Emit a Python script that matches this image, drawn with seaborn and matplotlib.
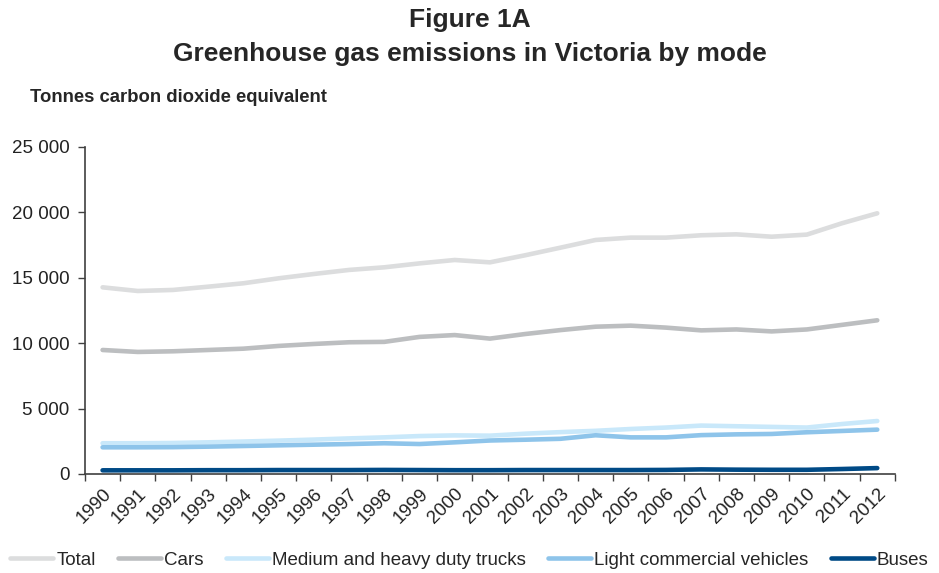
import numpy as np
import pandas as pd
import seaborn as sns
import matplotlib.pyplot as plt
from matplotlib.ticker import FuncFormatter, FixedLocator

years = list(range(1990, 2013))
total = [14270, 13990, 14070, 14320, 14580, 14960, 15290, 15600, 15800, 16100, 16360, 16180,
         16720, 17300, 17890, 18070, 18070, 18250, 18320, 18140, 18300, 19170, 19930]
cars = [9480, 9330, 9380, 9480, 9580, 9790, 9940, 10070, 10100, 10480, 10620, 10350,
        10700, 11000, 11260, 11340, 11190, 10980, 11050, 10900, 11050, 11400, 11750]
trucks = [2350, 2350, 2370, 2420, 2480, 2550, 2630, 2720, 2800, 2900, 2950, 2930,
          3080, 3200, 3300, 3440, 3550, 3700, 3650, 3600, 3550, 3820, 4050]
lcv = [2040, 2040, 2050, 2090, 2140, 2190, 2240, 2290, 2350, 2290, 2420, 2560,
       2620, 2690, 2960, 2800, 2800, 2970, 3030, 3060, 3190, 3290, 3390]
buses = [280, 280, 280, 290, 290, 300, 300, 300, 310, 300, 290, 290,
         300, 300, 300, 300, 310, 350, 330, 320, 320, 380, 450]

series = ["Total", "Cars", "Medium and heavy duty trucks", "Light commercial vehicles", "Buses"]
colors = ["#DCDDDE", "#BCBEC0", "#C9E8FA", "#8EC4EA", "#004A86"]

df = pd.DataFrame({"year": years, "Total": total, "Cars": cars,
                   "Medium and heavy duty trucks": trucks,
                   "Light commercial vehicles": lcv, "Buses": buses})
long = df.melt(id_vars="year", var_name="mode", value_name="value")

sns.set_style("ticks")
plt.rcParams["font.family"] = ["Liberation Sans", "DejaVu Sans"]

fig = plt.figure(figsize=(9.39, 5.73), dpi=100)
ax = fig.add_axes([0.0905, 0.1728, 0.8625, 0.5707])

sns.lineplot(data=long, x="year", y="value", hue="mode", hue_order=series,
             palette=dict(zip(series, colors)), linewidth=3.3, ax=ax,
             solid_capstyle="round")

ax.set_xlim(1989.5, 2012.5)
ax.set_ylim(0, 25000)
ax.set_xticks(years)
ax.set_xticklabels([str(y) for y in years], rotation=45, ha="right",
                   rotation_mode="anchor", fontsize=13.5, color="#222222")
ax.xaxis.set_minor_locator(FixedLocator(np.arange(1989.5, 2012.6, 1.0)))
ax.tick_params(axis="x", which="major", length=0, pad=8)
ax.tick_params(axis="x", which="minor", length=5, width=1, color="#404040", direction="out")
ax.set_yticks(range(0, 25001, 5000))
ax.yaxis.set_major_formatter(FuncFormatter(lambda v, p: f"{int(v):,}".replace(",", " ")))
ax.tick_params(axis="y", length=5, width=1, color="#404040", labelsize=13.5,
               labelcolor="#222222", pad=6)
ax.set_xlabel("")
ax.set_ylabel("")
sns.despine(ax=ax)
for s in ["left", "bottom"]:
    ax.spines[s].set_color("#404040")
    ax.spines[s].set_linewidth(1.2)

fig.text(0.5, 0.965, "Figure 1A", ha="center", va="center",
         fontsize=19, fontweight="bold")
fig.text(0.5, 0.906, "Greenhouse gas emissions in Victoria by mode", ha="center",
         va="center", fontsize=19, fontweight="bold")
fig.text(0.032, 0.829, "Tonnes carbon dioxide equivalent", ha="left", va="center",
         fontsize=13.3, fontweight="bold")

ax.legend_.remove()
handles, labels = ax.get_legend_handles_labels()
fig.legend(handles, labels, loc="center", bbox_to_anchor=(0.5, 0.022), ncol=5,
           frameon=False, fontsize=13.5, handlelength=2.3, handletextpad=0.15,
           columnspacing=1.2)

fig.savefig("out.png", dpi=100)
